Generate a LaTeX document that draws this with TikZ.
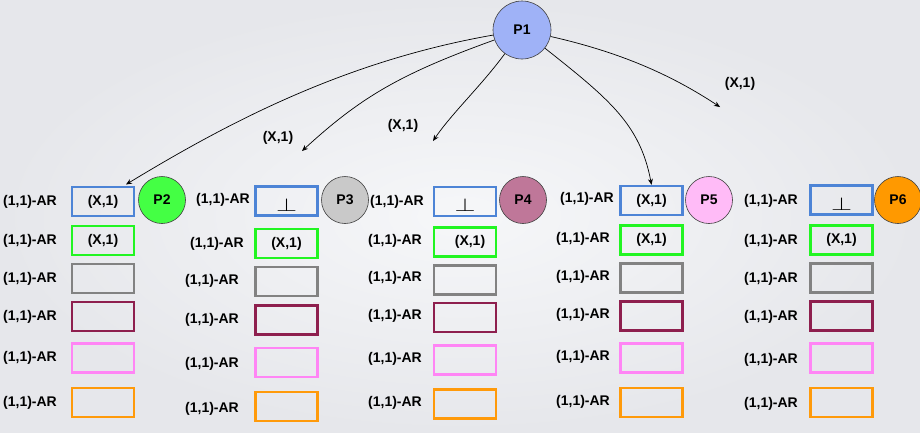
\documentclass[tikz,border=0pt]{standalone}
\usepackage{fontspec}
\setmainfont{Liberation Sans}
\usepackage{graphicx}
\usetikzlibrary{arrows.meta}
\definecolor{bgin}{HTML}{F6F7F9}
\definecolor{bgout}{HTML}{E6E7EB}
\definecolor{cblue}{HTML}{4D84D6}
\definecolor{cgreen}{HTML}{22F522}
\definecolor{cgray}{HTML}{828282}
\definecolor{cmaroon}{HTML}{8E1F4E}
\definecolor{cpink}{HTML}{FF85F5}
\definecolor{corange}{HTML}{FF9A0A}
\definecolor{fP1}{HTML}{9FB2F7}
\definecolor{fP2}{HTML}{44FF44}
\definecolor{fP3}{HTML}{C9C9C9}
\definecolor{fP4}{HTML}{BF7799}
\definecolor{fP5}{HTML}{FFBBF7}
\definecolor{fP6}{HTML}{FF9900}
\tikzset{
  txt/.style={font=\fontsize{14}{16}\selectfont\bfseries, inner sep=0pt, text=black},
  slot/.style={draw=#1, line width=2.4pt, minimum width=62pt, minimum height=29pt, inner sep=0pt,
    font=\fontsize{14}{16}\selectfont\bfseries},
  proc/.style={circle, draw=black!75, line width=0.6pt, fill=#1, minimum size=47pt, inner sep=0pt,
    font=\fontsize{14}{16}\selectfont\bfseries},
  msg/.style={-{Stealth[length=6pt,width=5pt]}, line width=0.7pt, black},
}
\newcommand{\bottom}{\raisebox{-3.5pt}[13pt][0pt]{\resizebox{21pt}{13pt}{$\perp$}}}
\begin{document}
\begin{tikzpicture}[x=1pt,y=-1pt]
\useasboundingbox (0,0) rectangle (920,432);
\shade[inner color=bgin, outer color=bgout] (0,0) rectangle (920,432);

% P1
\node[proc=fP1, minimum size=58pt] (P1) at (522,30) {P1};

% Column 1
\node[slot=cblue]   (b11) at (103,201.5) {(X,1)};
\node[slot=cgreen]  (b12) at (103,240.5) {(X,1)};
\node[slot=cgray]   (b13) at (103,278.5) {};
\node[slot=cmaroon] (b14) at (103,316.5) {};
\node[slot=cpink]   (b15) at (103,358) {};
\node[slot=corange] (b16) at (103,402.5) {};
\node[txt] (l11) at (30,201.5) {(1,1)-AR};
\node[txt] (l12) at (30,240.5) {(1,1)-AR};
\node[txt] (l13) at (30,278.5) {(1,1)-AR};
\node[txt] (l14) at (30,316.5) {(1,1)-AR};
\node[txt] (l15) at (30,358) {(1,1)-AR};
\node[txt] (l16) at (30,402.5) {(1,1)-AR};
\node[proc=fP2] (P2) at (162,200) {P2};

% Column 2
\node[slot=cblue]   (b21) at (286.5,201) {\bottom};
\node[slot=cgreen]  (b22) at (286.5,243.5) {(X,1)};
\node[slot=cgray]   (b23) at (286.5,281.5) {};
\node[slot=cmaroon] (b24) at (286.5,320) {};
\node[slot=cpink]   (b25) at (286.5,362.5) {};
\node[slot=corange] (b26) at (286.5,406.5) {};
\node[txt] (l21) at (223,200) {(1,1)-AR};
\node[txt] (l22) at (217,243.5) {(1,1)-AR};
\node[txt] (l23) at (212,281) {(1,1)-AR};
\node[txt] (l24) at (212,320) {(1,1)-AR};
\node[txt] (l25) at (212,364) {(1,1)-AR};
\node[txt] (l26) at (212,408.5) {(1,1)-AR};
\node[proc=fP3] (P3) at (345,200) {P3};

% Column 3
\node[slot=cblue]   (b31) at (465,201.5) {\bottom};
\node[slot=cgreen]  (b32) at (465,242) {\hspace{10pt}(X,1)};
\node[slot=cgray]   (b33) at (465,280) {};
\node[slot=cmaroon] (b34) at (465,317.5) {};
\node[slot=cpink]   (b35) at (465,360) {};
\node[slot=corange] (b36) at (465,404) {};
\node[txt] (l31) at (397,201.5) {(1,1)-AR};
\node[txt] (l32) at (395,241) {(1,1)-AR};
\node[txt] (l33) at (395,277.5) {(1,1)-AR};
\node[txt] (l34) at (395,315.5) {(1,1)-AR};
\node[txt] (l35) at (395,359) {(1,1)-AR};
\node[txt] (l36) at (395,402.5) {(1,1)-AR};
\node[proc=fP4] (P4) at (523,200) {P4};

% Column 4
\node[slot=cblue]   (b41) at (651.5,200.5) {(X,1)};
\node[slot=cgreen]  (b42) at (651.5,240) {(X,1)};
\node[slot=cgray]   (b43) at (651.5,278) {};
\node[slot=cmaroon] (b44) at (651.5,316) {};
\node[slot=cpink]   (b45) at (651.5,358) {};
\node[slot=corange] (b46) at (651.5,402.5) {};
\node[txt] (l41) at (587,199) {(1,1)-AR};
\node[txt] (l42) at (583,239) {(1,1)-AR};
\node[txt] (l43) at (583,277) {(1,1)-AR};
\node[txt] (l44) at (583,315) {(1,1)-AR};
\node[txt] (l45) at (583,357) {(1,1)-AR};
\node[txt] (l46) at (583,402) {(1,1)-AR};
\node[proc=fP5] (P5) at (709,200) {P5};

% Column 5
\node[slot=cblue]   (b51) at (841.5,200) {\bottom};
\node[slot=cgreen]  (b52) at (841.5,240) {(X,1)};
\node[slot=cgray]   (b53) at (841.5,278) {};
\node[slot=cmaroon] (b54) at (841.5,316) {};
\node[slot=cpink]   (b55) at (841.5,358) {};
\node[slot=corange] (b56) at (841.5,402.5) {};
\node[txt] (l51) at (771,201) {(1,1)-AR};
\node[txt] (l52) at (771,241) {(1,1)-AR};
\node[txt] (l53) at (771,279) {(1,1)-AR};
\node[txt] (l54) at (771,317) {(1,1)-AR};
\node[txt] (l55) at (771,359.5) {(1,1)-AR};
\node[txt] (l56) at (771,404) {(1,1)-AR};
\node[proc=fP6] (P6) at (898,200) {P6};

% message labels
\node[txt] (m2) at (278,138) {(X,1)};
\node[txt] (m3) at (403,126) {(X,1)};
\node[txt] (m5) at (740,84) {(X,1)};

% free ends
\coordinate (e2) at (302,151);
\coordinate (e3) at (433,141);
\coordinate (e5) at (720,107);
\coordinate (e1) at (126,184.5);

% arrows
\draw[msg] (P1) .. controls (345,61) and (229,122) .. (e1);
\draw[msg] (P1) .. controls (400,74) and (361,97) .. (e2);
\draw[msg] (P1) .. controls (482,85) and (452,113) .. (e3);
\draw[msg] (P1) .. controls (609,99) and (640,124) .. (b41.north);
\draw[msg] (P1) .. controls (619,52) and (670,74) .. (e5);
\end{tikzpicture}
\end{document}
